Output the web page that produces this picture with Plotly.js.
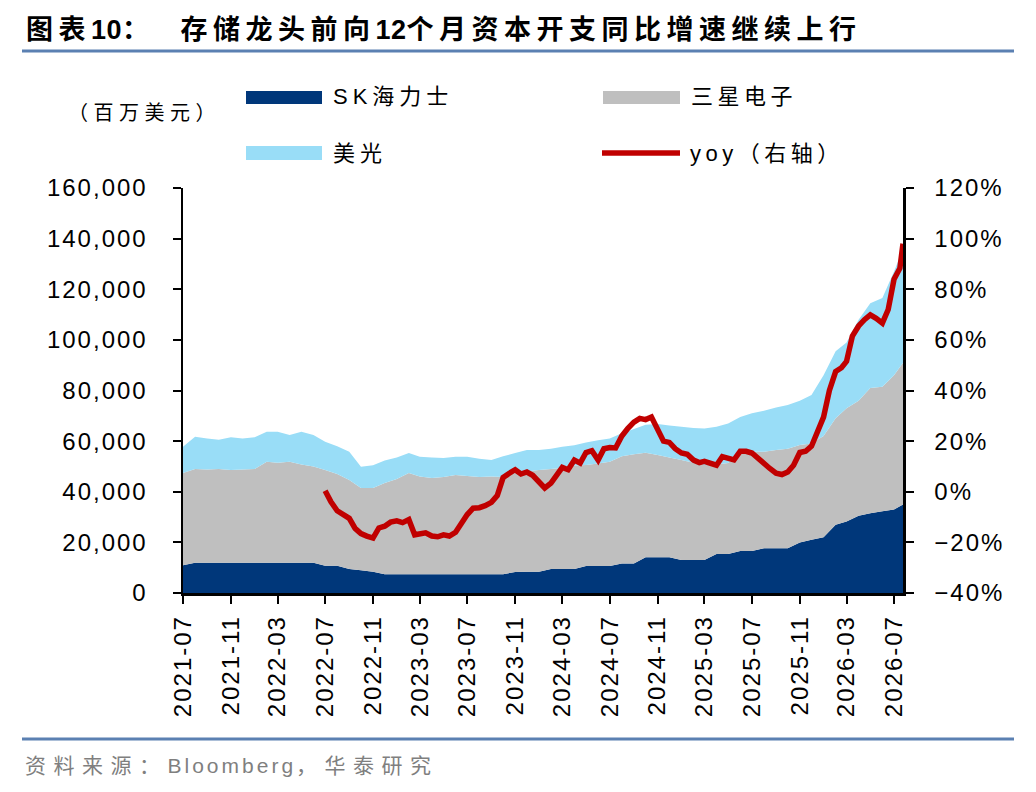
<!DOCTYPE html>
<html>
<head>
<meta charset="utf-8">
<script src="https://cdn.plot.ly/plotly-3.0.1.min.js"></script>
<style>
body{margin:0;background:#fff}
.xtick text, .ytick text, .y2tick text { letter-spacing: 2px; }
</style>
</head>
<body>
<div id="chart" style="width:1036px;height:792px"></div>
<script>
// monthly readings, last point is the latest weekly value
const dates = [
  '2021-07-01','2021-08-01','2021-09-01','2021-10-01','2021-11-01','2021-12-01',
  '2022-01-01','2022-02-01','2022-03-01','2022-04-01','2022-05-01','2022-06-01',
  '2022-07-01','2022-08-01','2022-09-01','2022-10-01','2022-11-01','2022-12-01',
  '2023-01-01','2023-02-01','2023-03-01','2023-04-01','2023-05-01','2023-06-01',
  '2023-07-01','2023-08-01','2023-09-01','2023-10-01','2023-11-01','2023-12-01',
  '2024-01-01','2024-02-01','2024-03-01','2024-04-01','2024-05-01','2024-06-01',
  '2024-07-01','2024-08-01','2024-09-01','2024-10-01','2024-11-01','2024-12-01',
  '2025-01-01','2025-02-01','2025-03-01','2025-04-01','2025-05-01','2025-06-01',
  '2025-07-01','2025-08-01','2025-09-01','2025-10-01','2025-11-01','2025-12-01',
  '2026-01-01','2026-02-01','2026-03-01','2026-04-01','2026-05-01','2026-06-01',
  '2026-07-01','2026-07-24'
];

// capex, USD mn
const skHynix = [
  11000, 12000, 12000, 12000, 12000, 12000,
  12000, 12000, 12000, 12000, 12000, 12000, 10800, 10800, 9500, 9000, 8400, 7400,
  7400, 7400, 7400, 7400, 7400, 7400, 7400, 7400, 7400, 7400, 8300, 8400,
  8400, 9500, 9500, 9500, 10700, 10700, 10700, 11700, 11700, 14100, 14100, 14100,
  13000, 13000, 13000, 15400, 15400, 16600, 16600, 17700, 17700, 17700, 20000, 21000,
  22000, 27000, 28200, 30500, 31500, 32300, 33000, 35000
];
const samsung = [
  36400, 37000, 36800, 37000, 36600, 36800,
  37000, 39900, 39500, 39900, 38800, 38000, 37800, 36200, 35100, 32500, 33100, 36100,
  37600, 40000, 38600, 38000, 38400, 39200, 38800, 38400, 38600, 38400, 39100, 39600,
  40200, 39500, 40000, 40900, 39900, 40500, 41200, 42300, 43100, 41300, 40400, 39400,
  39500, 38500, 37600, 35400, 36000, 38400, 39200, 38100, 38800, 39300, 38500, 38100,
  40000, 42000, 44800, 45500, 49500, 49200, 53000, 56000
];
const micron = [
  10400, 12700, 12200, 11500, 12900, 12200,
  12500, 11800, 12200, 10500, 12900, 12400, 11200, 11000, 11200, 8400, 9000, 8800,
  8500, 7900, 7800, 8100, 7500, 7200, 7600, 7200, 6500, 8200, 7900, 8500,
  7900, 8000, 8300, 8000, 8900, 9100, 9100, 9100, 10000, 11100, 12300, 12700,
  13200, 13700, 14400, 14900, 15600, 14500, 15200, 16200, 16800, 17300, 17500, 19100,
  24000, 26500, 26000, 32000, 33500, 35000, 41000, 45000
];

// yoy %, right axis, read twice a month
const yoyDates = [
  '2022-07-01','2022-07-16','2022-08-01','2022-08-16','2022-09-01','2022-09-16',
  '2022-10-01','2022-10-16','2022-11-01','2022-11-16','2022-12-01','2022-12-16',
  '2023-01-01','2023-01-16','2023-02-01','2023-02-16','2023-03-01','2023-03-16',
  '2023-04-01','2023-04-16','2023-05-01','2023-05-16','2023-06-01','2023-06-16',
  '2023-07-01','2023-07-16','2023-08-01','2023-08-16','2023-09-01','2023-09-16',
  '2023-10-01','2023-10-16','2023-11-01','2023-11-16','2023-12-01','2023-12-16',
  '2024-01-01','2024-01-16','2024-02-01','2024-02-16','2024-03-01','2024-03-16',
  '2024-04-01','2024-04-16','2024-05-01','2024-05-16','2024-06-01','2024-06-16',
  '2024-07-01','2024-07-16','2024-08-01','2024-08-16','2024-09-01','2024-09-16',
  '2024-10-01','2024-10-16','2024-11-01','2024-11-16','2024-12-01','2024-12-16',
  '2025-01-01','2025-01-16','2025-02-01','2025-02-16','2025-03-01','2025-03-16',
  '2025-04-01','2025-04-16','2025-05-01','2025-05-16','2025-06-01','2025-06-16',
  '2025-07-01','2025-07-16','2025-08-01','2025-08-16','2025-09-01','2025-09-16',
  '2025-10-01','2025-10-16','2025-11-01','2025-11-16','2025-12-01','2025-12-16',
  '2026-01-01','2026-01-16','2026-02-01','2026-02-16','2026-03-01','2026-03-16',
  '2026-04-01','2026-04-16','2026-05-01','2026-05-16','2026-06-01','2026-06-16',
  '2026-07-01','2026-07-16','2026-07-24'
];
const yoy = [
  0.4, -4, -7.5, -9, -10.5, -14.5,
  -16.5, -17.5, -18.3, -14.3, -13.6, -12,
  -11.5, -12.2, -11, -17, -16.5, -16.2,
  -17.5, -17.8, -17, -17.5, -16, -12.5,
  -9, -6.5, -6.3, -5.5, -4.2, -1.5,
  5.6, 7.2, 8.7, 7, 7.8, 6.5,
  4, 1.5, 3.4, 7, 9.6, 8.7,
  12.5, 11.3, 15.5, 16.2, 12.5, 17,
  17.5, 17.3, 22, 25, 27.5, 29,
  28.5, 29.5, 24, 20, 19.5, 17,
  15.3, 14.8, 12.5, 11.5, 12, 11.5,
  10.5, 13.9, 13, 12.6, 16, 16,
  15.3, 13.3, 10.5, 9.2, 7.3, 6.8,
  7.8, 10.5, 15.5, 16, 18, 24,
  29.5, 40, 47.5, 49, 51.5, 61.5,
  65.5, 68, 69.9, 68.5, 66.6, 72,
  84, 88.3, 98
];

const names = ['SK海力士', '三星电子', '美光', 'yoy（右轴）'];
const colors = ['#00377A', '#BFBFBF', '#99DDF7', '#C00000'];

const traces = [skHynix, samsung, micron].map((vals, i) => ({
  x: dates, y: vals, type: 'scatter', mode: 'none',
  stackgroup: 'capex', fillcolor: colors[i], line: { width: 0 },
  name: names[i], hoverinfo: 'skip'
}));
traces.push({
  x: yoyDates, y: yoy, type: 'scatter', mode: 'lines', yaxis: 'y2',
  name: names[3], line: { color: colors[3], width: 5.5 }
});

// pixel -> paper helpers for the frame decorations
const X = p => (p - 183) / 720;
const Y = p => (593 - p) / 405;

const cjk = 'Liberation Sans, Noto Sans CJK SC, sans-serif';
const note = (x, y, text, extra) => Object.assign({
  xref: 'paper', yref: 'paper', x: X(x), y: Y(y), text: text,
  showarrow: false, xanchor: 'left', yanchor: 'middle', align: 'left',
  font: { family: cjk, size: 22, color: '#000' }
}, extra || {});

const axisBase = {
  showgrid: false, zeroline: false, showline: true,
  linecolor: '#000', linewidth: 2.5,
  ticks: 'outside', ticklen: 8, tickwidth: 2, tickcolor: '#000',
  tickfont: { family: 'Liberation Sans, Arial, sans-serif', size: 24, color: '#000' }
};

const spaced = (s, px) => '<span style="letter-spacing:' + px + 'px">' + s + '</span>';

const layout = {
  width: 1036, height: 792,
  margin: { l: 183, r: 133, t: 188, b: 199 },
  paper_bgcolor: '#fff', plot_bgcolor: '#fff',
  showlegend: false,
  xaxis: Object.assign({}, axisBase, {
    type: 'date', range: ['2021-07-01', '2026-07-24'],
    tick0: '2021-07-01', dtick: 'M4', tickformat: '%Y-%m', tickangle: -90,
    ticklabelstandoff: 2
  }),
  yaxis: Object.assign({}, axisBase, {
    range: [0, 160000], dtick: 20000, tickformat: ',d', ticklabelstandoff: 20
  }),
  yaxis2: Object.assign({}, axisBase, {
    overlaying: 'y', side: 'right', range: [-40, 120], dtick: 20,
    ticksuffix: '%', ticklabelstandoff: 16
  }),
  shapes: [
    { type: 'line', xref: 'paper', yref: 'paper', x0: X(22), x1: X(1014), y0: Y(51), y1: Y(51),
      line: { color: '#5B80B2', width: 3 } },
    { type: 'line', xref: 'paper', yref: 'paper', x0: X(22), x1: X(1014), y0: Y(739), y1: Y(739),
      line: { color: '#5B80B2', width: 3 } },
    { type: 'rect', xref: 'paper', yref: 'paper', x0: X(246), x1: X(322), y0: Y(91), y1: Y(104),
      fillcolor: colors[0], line: { width: 0 } },
    { type: 'rect', xref: 'paper', yref: 'paper', x0: X(603), x1: X(680), y0: Y(91), y1: Y(104),
      fillcolor: colors[1], line: { width: 0 } },
    { type: 'rect', xref: 'paper', yref: 'paper', x0: X(246), x1: X(322), y0: Y(146), y1: Y(160),
      fillcolor: colors[2], line: { width: 0 } },
    { type: 'line', xref: 'paper', yref: 'paper', x0: X(602), x1: X(680), y0: Y(153), y1: Y(153),
      line: { color: colors[3], width: 5.5 } }
  ],
  annotations: [
    note(24, 30, '<b>图表' + spaced('10', 0.5) + '：  存储龙头前向' + spaced('12', 0.5) + '个月资本开支同比增速继续上行</b>',
      { font: { family: cjk, size: 27, color: '#000' } }),
    note(66, 113, '（百万美元）', { font: { family: cjk, size: 20, color: '#000' } }),
    note(331, 97, names[0]),
    note(689, 97, names[1]),
    note(331, 153, names[2]),
    note(688, 153, names[3]),
    note(23, 765, '资料来源：' + spaced('Bloomberg', 3) + '，华泰研究',
      { font: { family: cjk, size: 21, color: '#7F7F7F' } })
  ]
};

// per-annotation letter spacing, same order as layout.annotations
const spacing = [5.5, 5.5, 5, 4.5, 5, 4.5, 7.5];

Plotly.newPlot('chart', traces, layout, { displayModeBar: false, staticPlot: true }).then(() => {
  document.querySelectorAll('.annotation-text').forEach((t, i) => {
    t.style.letterSpacing = spacing[i] + 'px';
  });
});
</script>
</body>
</html>
